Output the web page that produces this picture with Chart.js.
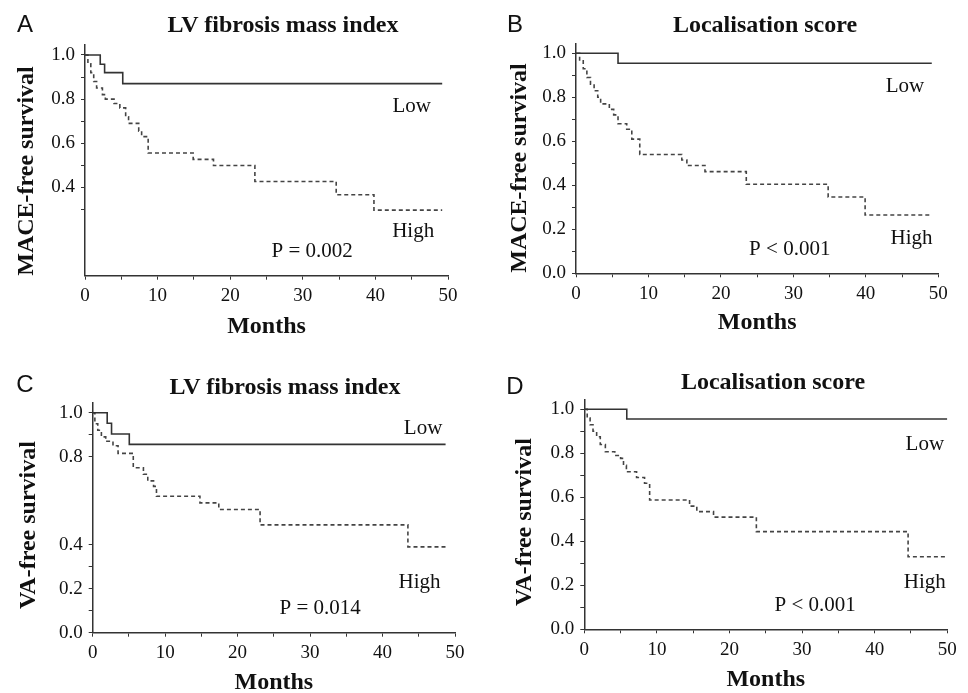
<!DOCTYPE html>
<html>
<head>
<meta charset="utf-8">
<script src="https://cdn.jsdelivr.net/npm/chart.js@4/dist/chart.umd.min.js"></script>
<style>
  html, body { margin: 0; padding: 0; background: #fff; overflow: hidden; }
  #wrap { position: relative; width: 968px; height: 693px; }
  .panel { position: absolute; }
  .lbl { position: absolute; font-family: "Liberation Sans", Arial, sans-serif; font-size: 24px; color: #111; line-height: 1; transform: translate(-50%, -50%); }
  .ttl { position: absolute; font-family: "Liberation Serif", "Times New Roman", serif; font-weight: bold; font-size: 24px; color: #111; line-height: 1; white-space: nowrap; transform: translate(-50%, -50%); }
  .ytl { position: absolute; font-family: "Liberation Serif", "Times New Roman", serif; font-weight: bold; font-size: 24px; color: #111; line-height: 1; white-space: nowrap; transform: translate(-50%, -50%) rotate(-90deg); }
</style>
</head>
<body>
<div id="wrap">
  <div class="lbl" style="left:25px;top:24px">A</div>
  <div class="ttl" style="left:283px;top:24px">LV fibrosis mass index</div>
  <div class="ytl" style="left:25px;top:171px">MACE-free survival</div>
  <div class="lbl" style="left:515px;top:24px">B</div>
  <div class="ttl" style="left:765px;top:24px">Localisation score</div>
  <div class="ytl" style="left:518px;top:168px">MACE-free survival</div>
  <div class="lbl" style="left:25px;top:384px">C</div>
  <div class="ttl" style="left:285px;top:386px">LV fibrosis mass index</div>
  <div class="ytl" style="left:27px;top:525px">VA-free survival</div>
  <div class="lbl" style="left:515px;top:386px">D</div>
  <div class="ttl" style="left:773px;top:381px">Localisation score</div>
  <div class="ytl" style="left:523px;top:522px">VA-free survival</div>
</div>
<script>
// axis ticks
const xTicks = [0, 5, 10, 15, 20, 25, 30, 35, 40, 45, 50];
const xLabels = [0, 10, 20, 30, 40, 50];

// A - MACE, LV fibrosis mass index
const aLowT = [0, 2.1, 2.7, 5.2, 49.2];
const aLowS = [1, 0.958, 0.92, 0.87, 0.87];
const aHighT = [0, 0.4, 0.8, 1.2, 1.6, 2.4, 2.8, 4.0, 4.8, 5.6, 6.0, 7.4, 7.8, 8.7, 14.9, 17.7, 23.4, 34.6, 39.8, 49.2];
const aHighS = [1, 0.96, 0.92, 0.88, 0.85, 0.82, 0.80, 0.78, 0.76, 0.72, 0.69, 0.655, 0.63, 0.556, 0.527, 0.499, 0.427, 0.367, 0.297, 0.297];

// B - MACE, localisation score
const bLowT = [0, 5.8, 49.1];
const bLowS = [1, 0.955, 0.955];
const bHighT = [0, 0.5, 1.0, 1.5, 2.0, 2.5, 3.0, 3.4, 4.6, 5.2, 5.8, 7.0, 7.7, 8.8, 14.6, 15.3, 17.8, 23.5, 34.8, 39.9, 49.1];
const bHighS = [1, 0.97, 0.93, 0.89, 0.86, 0.83, 0.80, 0.77, 0.745, 0.72, 0.68, 0.655, 0.61, 0.54, 0.515, 0.49, 0.462, 0.405, 0.347, 0.265, 0.265];

// C - VA, LV fibrosis mass index
const cLowT = [0, 2.0, 2.6, 5.05, 48.7];
const cLowS = [1, 0.952, 0.903, 0.856, 0.856];
const cHighT = [0, 0.3, 0.7, 1.2, 1.8, 2.8, 3.5, 5.6, 7.0, 7.6, 8.4, 8.8, 14.8, 17.4, 23.1, 43.5, 48.7];
const cHighS = [1, 0.95, 0.92, 0.89, 0.87, 0.85, 0.815, 0.75, 0.72, 0.69, 0.665, 0.62, 0.59, 0.56, 0.49, 0.39, 0.39];

// D - VA, localisation score
const dLowT = [0, 5.85, 50];
const dLowS = [1, 0.956, 0.956];
const dHighT = [0, 0.4, 0.8, 1.2, 1.7, 2.2, 2.9, 4.2, 5.0, 5.4, 5.8, 7.2, 8.3, 9.0, 14.5, 15.5, 17.8, 23.7, 44.6, 50];
const dHighS = [1, 0.96, 0.93, 0.90, 0.875, 0.84, 0.807, 0.79, 0.777, 0.745, 0.716, 0.69, 0.664, 0.588, 0.56, 0.535, 0.51, 0.444, 0.33, 0.33];

const serif = '"Liberation Serif", "Times New Roman", serif';
const ink = '#333';

function pts(t, s) {
  return t.map((v, i) => ({ x: v, y: s[i] }));
}

// box = canvas placement, area = wanted plot area (page px)
function makePanel(cfg) {
  const host = document.createElement('div');
  host.className = 'panel';
  host.style.left = cfg.box[0] + 'px';
  host.style.top = cfg.box[1] + 'px';
  const cv = document.createElement('canvas');
  cv.width = cfg.box[2];
  cv.height = cfg.box[3];
  host.appendChild(cv);
  document.getElementById('wrap').prepend(host);

  const [bx, by, bw, bh] = cfg.box;
  const [L, T, R, B] = cfg.area;

  const notes = {
    id: 'notes',
    afterDatasetsDraw(chart) {
      const ctx = chart.ctx;
      const xs = chart.scales.x, ys = chart.scales.y;
      ctx.save();
      ctx.font = '21px ' + serif;
      ctx.fillStyle = '#111';
      ctx.textAlign = 'center';
      ctx.textBaseline = 'middle';
      cfg.notes.forEach(n => {
        ctx.fillText(n[0], xs.getPixelForValue(n[1]), ys.getPixelForValue(n[2]));
      });
      ctx.restore();
    }
  };

  new Chart(cv, {
    type: 'line',
    data: {
      datasets: [
        { data: pts(cfg.lowT, cfg.lowS), borderColor: ink, borderWidth: 1.6, stepped: true, pointRadius: 0, fill: false },
        { data: pts(cfg.highT, cfg.highS), borderColor: '#444', borderWidth: 1.6, borderDash: [4, 3], stepped: true, pointRadius: 0, fill: false }
      ]
    },
    options: {
      responsive: false,
      animation: false,
      layout: { padding: { left: 0, top: T - by, right: bx + bw - R, bottom: 0 } },
      plugins: { legend: { display: false }, tooltip: { enabled: false } },
      scales: {
        x: {
          type: 'linear', min: 0, max: 50,
          afterBuildTicks: s => { s.ticks = xTicks.map(v => ({ value: v })); },
          afterFit: s => { s.height = by + bh - B; },
          ticks: {
            autoSkip: false, maxRotation: 0, padding: 5, color: '#111',
            font: { family: serif, size: 19 },
            callback: v => xLabels.includes(v) ? String(v) : ''
          },
          grid: { drawOnChartArea: false, tickLength: 4, color: ink },
          border: { color: ink, width: 1.5 },
          title: {
            display: true, text: 'Months', color: '#111',
            font: { family: serif, size: 24, weight: 'bold', lineHeight: 1 },
            padding: { top: 0, bottom: cfg.xtPad }
          }
        },
        y: {
          min: 0, max: 1.045,
          afterBuildTicks: s => { s.ticks = cfg.yTicks.map(v => ({ value: v })); },
          afterFit: s => { s.width = L - bx; },
          ticks: {
            autoSkip: false, padding: 6, color: '#111',
            font: { family: serif, size: 19 },
            callback: v => cfg.yLabels.some(l => Math.abs(l - v) < 1e-6) ? v.toFixed(1) : ''
          },
          grid: { drawOnChartArea: false, tickLength: 4, color: ink },
          border: { color: ink, width: 1.5 }
        }
      }
    },
    plugins: [notes]
  });
}

makePanel({
  box: [0, 0, 484, 340], area: [85, 45, 448, 275.7],
  lowT: aLowT, lowS: aLowS, highT: aHighT, highS: aHighS,
  yTicks: [0.3, 0.4, 0.5, 0.6, 0.7, 0.8, 0.9, 1.0], yLabels: [0.4, 0.6, 0.8, 1.0],
  xtPad: 1,
  notes: [['Low', 45.0, 0.767], ['High', 45.2, 0.199], ['P = 0.002', 31.3, 0.108]]
});

makePanel({
  box: [484, 0, 484, 340], area: [576, 43.4, 938.3, 273.3],
  lowT: bLowT, lowS: bLowS, highT: bHighT, highS: bHighS,
  yTicks: [0, 0.1, 0.2, 0.3, 0.4, 0.5, 0.6, 0.7, 0.8, 0.9, 1.0], yLabels: [0, 0.2, 0.4, 0.6, 0.8, 1.0],
  xtPad: 5,
  notes: [['Low', 45.4, 0.847], ['High', 46.3, 0.16], ['P < 0.001', 29.5, 0.106]]
});

makePanel({
  box: [0, 340, 484, 360], area: [92.7, 402.8, 455, 632.7],
  lowT: cLowT, lowS: cLowS, highT: cHighT, highS: cHighS,
  yTicks: [0, 0.1, 0.2, 0.3, 0.4, 0.8, 0.9, 1.0], yLabels: [0, 0.2, 0.4, 0.8, 1.0],
  xtPad: 5,
  notes: [['Low', 45.6, 0.93], ['High', 45.1, 0.226], ['P = 0.014', 31.4, 0.108]]
});

makePanel({
  box: [484, 340, 484, 360], area: [584.3, 399.4, 947.3, 629.3],
  lowT: dLowT, lowS: dLowS, highT: dHighT, highS: dHighS,
  yTicks: [0, 0.1, 0.2, 0.3, 0.4, 0.5, 0.6, 0.7, 0.8, 0.9, 1.0], yLabels: [0, 0.2, 0.4, 0.6, 0.8, 1.0],
  xtPad: 8,
  notes: [['Low', 46.9, 0.838], ['High', 46.9, 0.215], ['P < 0.001', 31.8, 0.11]]
});
</script>
</body>
</html>
